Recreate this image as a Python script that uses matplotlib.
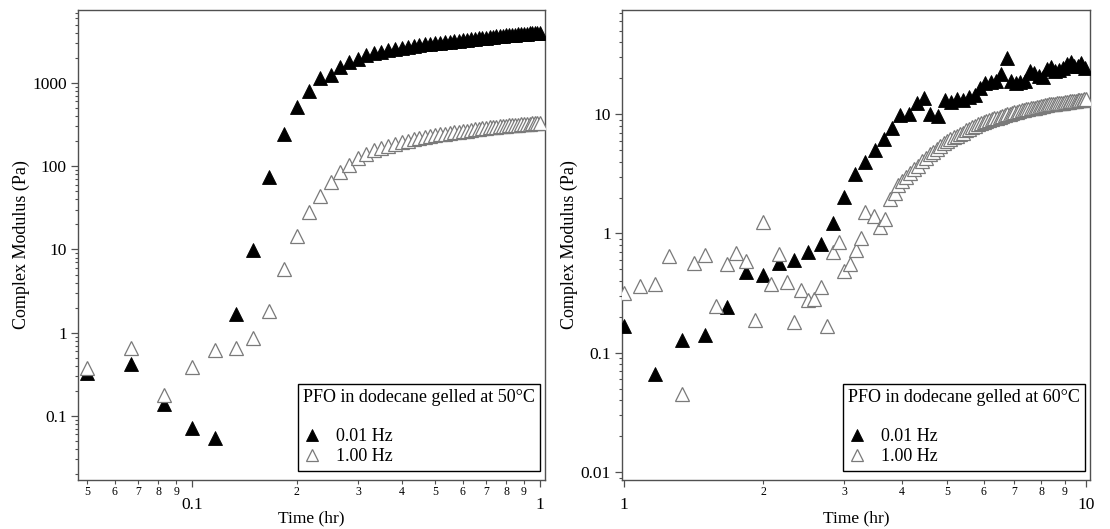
import matplotlib
matplotlib.use("Agg")
import matplotlib.pyplot as plt
from matplotlib.ticker import LogLocator, FuncFormatter, NullFormatter

plt.rcParams['font.family'] = ['Liberation Serif', 'DejaVu Serif']
plt.rcParams['mathtext.fontset'] = 'stix'

# ---------------- Left panel: gelled at 50 °C ----------------
left_time = [0.05, 0.0667, 0.0833, 0.1, 0.1167, 0.1333, 0.15, 0.1667, 0.1833, 0.2,
             0.2167, 0.2333, 0.25, 0.2667, 0.2833, 0.3, 0.3167, 0.3333, 0.35, 0.3667,
             0.3833, 0.4, 0.4167, 0.4333, 0.45, 0.4667, 0.4833, 0.5, 0.5167, 0.5333,
             0.55, 0.5667, 0.5833, 0.6, 0.6167, 0.6333, 0.65, 0.6667, 0.6833, 0.7,
             0.7167, 0.7333, 0.75, 0.7667, 0.7833, 0.8, 0.8167, 0.8333, 0.85, 0.8667,
             0.8833, 0.9, 0.9167, 0.9333, 0.95, 0.9667, 0.9833, 1.0]
left_001hz = [0.33, 0.42, 0.14, 0.071, 0.054, 1.69, 9.9, 74, 245, 521,
              811, 1140, 1250, 1550, 1800, 1950, 2150, 2300, 2380, 2470,
              2570, 2660, 2720, 2790, 2850, 2910, 2960, 3010, 3060, 3100,
              3140, 3190, 3230, 3270, 3310, 3350, 3390, 3430, 3470, 3510,
              3550, 3590, 3620, 3650, 3690, 3720, 3750, 3780, 3810, 3840,
              3870, 3900, 3920, 3950, 3970, 3990, 4010, 4030]
left_100hz = [0.38, 0.65, 0.18, 0.39, 0.62, 0.65, 0.86, 1.84, 5.8, 14.6,
              27.8, 44, 64, 84, 104, 124, 141, 156, 166, 176,
              186, 195, 203, 210, 217, 224, 230, 236, 241, 246,
              251, 256, 260, 264, 268, 272, 276, 280, 284, 288,
              292, 296, 299, 302, 305, 307, 309, 311, 313, 316,
              318, 320, 322, 324, 326, 328, 330, 332]

# ---------------- Right panel: gelled at 60 °C ----------------
right_time_001 = [1.0, 1.167, 1.333, 1.5, 1.667, 1.833, 2.0, 2.167, 2.333, 2.5,
                  2.667, 2.833, 3.0, 3.16, 3.32, 3.49, 3.65, 3.805, 3.96, 4.13,
                  4.31, 4.47, 4.6, 4.77, 4.94, 5.1, 5.25, 5.41, 5.57, 5.74,
                  5.9, 6.05, 6.22, 6.38, 6.55, 6.73, 6.87, 7.04, 7.21, 7.38,
                  7.56, 7.73, 7.9, 8.07, 8.24, 8.41, 8.58, 8.75, 8.92, 9.09,
                  9.26, 9.43, 9.6, 9.77, 9.94]
right_001hz = [0.169, 0.066, 0.128, 0.14, 0.241, 0.474, 0.447, 0.568, 0.598, 0.702,
               0.824, 1.23, 2.01, 3.12, 3.99, 4.96, 6.14, 7.69, 9.8, 9.94,
               12.3, 13.7, 10.1, 9.6, 13.1, 12.6, 13.4, 13.1, 14.0, 14.4,
               16.6, 18.3, 18.6, 19.0, 21.5, 29.3, 19.0, 18.1, 18.4, 19.0,
               22.9, 21.9, 20.9, 20.5, 23.9, 25.0, 22.9, 23.5, 24.5, 26.1,
               27.5, 25.5, 25.3, 27.0, 24.5]
right_time_100 = [1.0, 1.083, 1.167, 1.25, 1.333, 1.417, 1.5, 1.583, 1.667, 1.75,
                  1.833, 1.917, 2.0, 2.083, 2.167, 2.25, 2.333, 2.417, 2.5, 2.583,
                  2.667, 2.75, 2.833, 2.917, 3.0, 3.083, 3.18, 3.25, 3.33, 3.47,
                  3.58, 3.68, 3.76, 3.85,
                  3.917, 4.0, 4.083, 4.167, 4.25, 4.333, 4.417, 4.5, 4.583, 4.667,
                  4.75, 4.833, 4.917, 5.0, 5.083, 5.167, 5.25, 5.333, 5.417, 5.5,
                  5.583, 5.667, 5.75, 5.833, 5.917, 6.0, 6.083, 6.167, 6.25, 6.333,
                  6.417, 6.5, 6.583, 6.667, 6.75, 6.833, 6.917, 7.0, 7.083, 7.167,
                  7.25, 7.333, 7.417, 7.5, 7.583, 7.667, 7.75, 7.833, 7.917, 8.0,
                  8.083, 8.167, 8.25, 8.333, 8.417, 8.5, 8.583, 8.667, 8.75, 8.833,
                  8.917, 9.0, 9.083, 9.167, 9.25, 9.333, 9.417, 9.5, 9.583, 9.667,
                  9.75, 9.833, 9.917, 10.0]
right_100hz = [0.318, 0.362, 0.379, 0.645, 0.045, 0.568, 0.654, 0.249, 0.55, 0.68,
               0.586, 0.188, 1.244, 0.374, 0.667, 0.391, 0.181, 0.333, 0.276, 0.28,
               0.357, 0.167, 0.697, 0.846, 0.483, 0.55, 0.73, 0.92, 1.5, 1.39,
               1.14, 1.31, 1.93, 2.2,
               2.55, 2.75, 2.95, 3.2, 3.45, 3.7, 4.05, 4.3, 4.6, 4.85,
               5.1, 5.4, 5.7, 5.95, 6.2, 6.4, 6.6, 6.8, 7.0, 7.3,
               7.5, 7.8, 8.0, 8.2, 8.4, 8.6, 8.75, 8.9, 9.05, 9.2,
               9.35, 9.5, 9.65, 9.8, 9.95, 10.1, 10.25, 10.4, 10.5, 10.6,
               10.75, 10.85, 10.95, 11.05, 11.15, 11.25, 11.35, 11.45, 11.55, 11.65,
               11.75, 11.85, 11.95, 12.05, 12.1, 12.2, 12.25, 12.3, 12.4, 12.45,
               12.5, 12.6, 12.65, 12.7, 12.8, 12.85, 12.9, 13.0, 13.05, 13.1,
               13.2, 13.25, 13.3, 13.4]

series_labels = ["0.01 Hz", "1.00 Hz"]
legend_titles = ["PFO in dodecane gelled at 50\u00b0C", "PFO in dodecane gelled at 60\u00b0C"]
x_label = "Time (hr)"
y_label = "Complex Modulus (Pa)"

fig = plt.figure(figsize=(11.10, 5.29), dpi=100)
axL = fig.add_axes([0.0703, 0.0926, 0.4207, 0.8885])
axR = fig.add_axes([0.5604, 0.0926, 0.4216, 0.8885])

spine_col = "#505050"


def major_fmt(v, pos):
    return "%g" % v


def minor_fmt(v, pos):
    s = "%.0e" % v
    return s[0]


def style(ax, xlim, ylim):
    ax.set_xscale("log")
    ax.set_yscale("log")
    ax.set_xlim(*xlim)
    ax.set_ylim(*ylim)
    for sp in ax.spines.values():
        sp.set_color(spine_col)
        sp.set_linewidth(1.0)
    ax.xaxis.set_major_locator(LogLocator(base=10, numticks=20))
    ax.xaxis.set_minor_locator(LogLocator(base=10, subs=range(2, 10), numticks=20))
    ax.xaxis.set_major_formatter(FuncFormatter(major_fmt))
    ax.xaxis.set_minor_formatter(FuncFormatter(minor_fmt))
    ax.yaxis.set_major_locator(LogLocator(base=10, numticks=20))
    ax.yaxis.set_minor_locator(LogLocator(base=10, subs=range(2, 10), numticks=20))
    ax.yaxis.set_major_formatter(FuncFormatter(major_fmt))
    ax.yaxis.set_minor_formatter(NullFormatter())
    ax.tick_params(axis="x", which="major", direction="out", length=5, width=0.9,
                   color=spine_col, labelsize=12.5, pad=7, top=False)
    ax.tick_params(axis="x", which="minor", direction="out", length=3, width=0.8,
                   color=spine_col, labelsize=8.5, pad=1.5, top=False)
    ax.tick_params(axis="y", which="major", direction="out", length=5, width=0.9,
                   color=spine_col, labelsize=12.5, pad=3, right=False)
    ax.tick_params(axis="y", which="minor", direction="out", length=2.5, width=0.8,
                   color=spine_col, right=False)
    ax.set_xlabel(x_label, fontsize=12.5, labelpad=-1.5)
    ax.set_ylabel(y_label, fontsize=13, labelpad=2)


def draw(ax, t1, g1, t2, g2, title):
    h1, = ax.plot(t1, g1, linestyle="none", marker="^", markersize=9.5,
                  markerfacecolor="black", markeredgecolor="black",
                  markeredgewidth=0.6, label=series_labels[0], zorder=3)
    h2, = ax.plot(t2, g2, linestyle="none", marker="^", markersize=9.5,
                  markerfacecolor="white", markeredgecolor="#7a7a7a",
                  markeredgewidth=0.9, label=series_labels[1], zorder=4)
    leg = ax.legend(handles=[h1, h2], title=title + "\n", loc="lower right",
                    bbox_to_anchor=(0.99, 0.02), borderaxespad=0,
                    fontsize=13, title_fontsize=13, frameon=True, fancybox=False,
                    edgecolor="black", framealpha=1, markerscale=0.85,
                    handlelength=1.0, handletextpad=0.8, labelspacing=0.15,
                    borderpad=0.3, alignment="left")
    leg.get_frame().set_linewidth(1.0)


style(axL, (0.047, 1.034), (0.017, 7520))
draw(axL, left_time, left_001hz, left_time, left_100hz, legend_titles[0])

style(axR, (0.99, 10.2), (0.0086, 74.5))
draw(axR, right_time_001, right_001hz, right_time_100, right_100hz, legend_titles[1])

fig.savefig("out.png", dpi=100)
